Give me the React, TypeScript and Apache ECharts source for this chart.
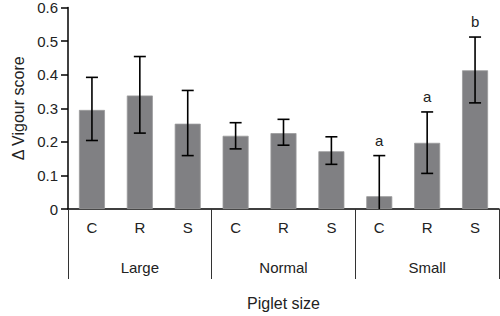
import React, { useEffect, useRef } from "react";
import * as echarts from "echarts";

const treatments = ["C", "R", "S", "C", "R", "S", "C", "R", "S"];
const groups = ["Large", "Normal", "Small"];
const means = [0.295, 0.338, 0.254, 0.218, 0.226, 0.172, 0.038, 0.197, 0.413];
const errLow = [0.204, 0.226, 0.159, 0.179, 0.19, 0.133, -0.083, 0.106, 0.316];
const errHigh = [0.392, 0.454, 0.353, 0.257, 0.267, 0.215, 0.159, 0.289, 0.512];
const letters = ["", "", "", "", "", "", "a", "a", "b"];
const yTicks = [0, 0.1, 0.2, 0.3, 0.4, 0.5, 0.6];

const FONT = "Liberation Sans, Arial, sans-serif";
const TXT = "#222";

export default function App() {
  const ref = useRef<HTMLDivElement>(null);
  useEffect(() => {
    const chart = echarts.init(ref.current!, null, { renderer: "svg" });
    const errData = means.map((_, i) => [i, errLow[i], errHigh[i], letters[i]]);
    chart.setOption({
      animation: false,
      grid: { left: 68, right: 1, top: 5, bottom: 104, containLabel: false },
      xAxis: [
        {
          type: "category",
          data: treatments,
          position: "bottom",
          axisLine: { lineStyle: { color: "#000", width: 1.5 } },
          axisTick: { show: false },
          axisLabel: { color: TXT, fontFamily: FONT, fontSize: 15, margin: 11 },
          name: "Piglet size",
          nameLocation: "middle",
          nameGap: 86,
          nameTextStyle: { color: TXT, fontFamily: FONT, fontSize: 16 },
        },
        {
          type: "category",
          data: groups,
          position: "bottom",
          axisLine: { show: false },
          axisTick: { show: true, length: 70, lineStyle: { color: "#333", width: 1 } },
          axisLabel: { color: TXT, fontFamily: FONT, fontSize: 15, margin: 51 },
        },
      ],
      yAxis: {
        type: "value",
        min: 0,
        max: 0.6,
        interval: 0.1,
        axisLine: { show: true, lineStyle: { color: "#000", width: 1.5 } },
        axisTick: { show: true, length: 7, lineStyle: { color: "#000", width: 1.5 } },
        splitLine: { show: false },
        axisLabel: {
          color: TXT,
          fontFamily: FONT,
          fontSize: 15,
          margin: 10,
          formatter: (v: number) => (yTicks.includes(Math.round(v * 10) / 10) ? String(Math.round(v * 10) / 10) : ""),
        },
        name: "Δ Vigour score",
        nameLocation: "middle",
        nameGap: 38,
        nameTextStyle: { color: TXT, fontFamily: FONT, fontSize: 16 },
      },
      series: [
        {
          type: "bar",
          xAxisIndex: 0,
          data: means,
          barWidth: 26,
          itemStyle: { color: "#808083", borderColor: "#9a9a9c", borderWidth: 0.8 },
          z: 2,
        },
        {
          type: "custom",
          xAxisIndex: 0,
          data: errData,
          z: 5,
          renderItem: (params: any, api: any) => {
            const i = api.value(0);
            const lo = api.value(1);
            const hi = api.value(2);
            const lab = letters[params.dataIndex];
            const top = api.coord([i, hi]);
            const bot = api.coord([i, Math.max(lo, 0)]);
            const half = 6;
            const style = { stroke: "#000", lineWidth: 1.6 };
            const children: any[] = [
              { type: "line", shape: { x1: top[0], y1: top[1], x2: bot[0], y2: bot[1] }, style },
              { type: "line", shape: { x1: top[0] - half, y1: top[1], x2: top[0] + half, y2: top[1] }, style },
            ];
            if (lo >= 0) {
              children.push({ type: "line", shape: { x1: bot[0] - half, y1: bot[1], x2: bot[0] + half, y2: bot[1] }, style });
            }
            if (lab) {
              children.push({
                type: "text",
                x: top[0],
                y: top[1] - 8,
                style: { text: lab, fill: TXT, font: `15px ${FONT}`, align: "center", verticalAlign: "bottom" },
              });
            }
            return { type: "group", children };
          },
        },
      ],
    });
    return () => chart.dispose();
  }, []);
  return <div ref={ref} style={{ width: 500, height: 316, position: "absolute", left: 0, top: 0 }} />;
}
